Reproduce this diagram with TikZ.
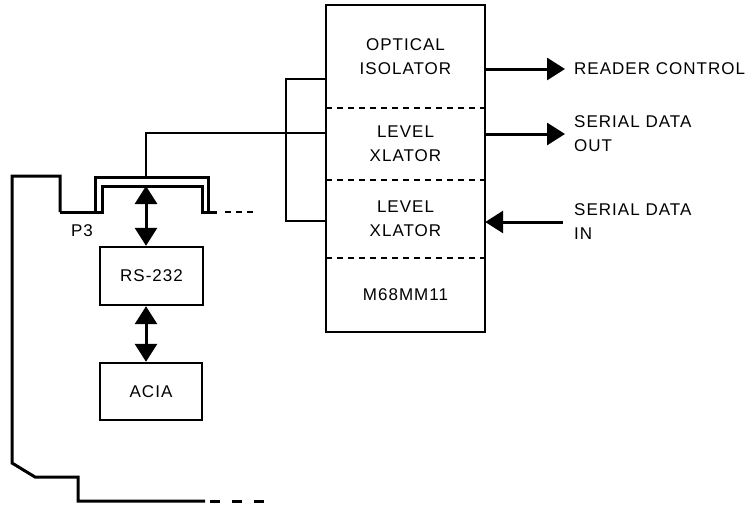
\documentclass[tikz,border=0pt]{standalone}
\usepackage{fontspec}
\setmainfont{Liberation Sans}[LetterSpace=6.0]
\usetikzlibrary{arrows.meta,positioning,calc}

\begin{document}
\begin{tikzpicture}[
  x=1pt, y=-1pt,
  sec/.style={rectangle, inner sep=0pt, minimum width=159pt, align=center,
              font=\fontsize{17}{24}\selectfont},
  blk/.style={rectangle, draw, line width=2.4pt, inner sep=0pt, align=center,
              font=\fontsize{17}{24}\selectfont},
  lab/.style={anchor=west, inner sep=3pt, align=left, font=\fontsize{17}{24}\selectfont},
  wire/.style={line width=2.4pt},
  bus/.style={line width=3pt},
  dsh/.style={line width=2.2pt, dash pattern=on 6pt off 5pt},
  >={Triangle[length=18pt,width=22pt]},
  arr/.style={->, line width=3pt},
  dbl/.style={<->, line width=3pt}
]
\useasboundingbox (0,0) rectangle (753,504);

\node[sec, minimum height=103pt] (opt) at (405.5,56.5) {OPTICAL\\ISOLATOR};
\node[sec, minimum height=72pt] (lvla) at (405.5,144) {LEVEL\\XLATOR};
\node[sec, minimum height=78pt] (lvlb) at (405.5,219) {LEVEL\\XLATOR};
\node[sec, minimum height=74pt] (mm) at (405.5,295) {M68MM11};
\draw[wire] (opt.north west) rectangle (mm.south east);
\draw[dsh] (lvla.north west) -- (lvla.north east);
\draw[dsh] (lvlb.north west) -- (lvlb.north east);
\draw[dsh] (mm.north west) -- (mm.north east);

\node[lab] (rctl) at (571,69) {READER CONTROL};
\node[lab] (sdout) at (571,134) {SERIAL DATA\\OUT};
\node[lab] (sdin) at (571,222) {SERIAL DATA\\IN};
\draw[arr, shorten >=6pt] (opt.east |- rctl.west) -- (rctl.west);
\draw[arr, shorten >=6pt] (lvla.east |- sdout.west) -- (sdout.west);
\draw[arr, shorten <=8pt] (sdin.west) -- (lvlb.east |- sdin.west);

\coordinate (brt) at (286,79);
\coordinate (brb) at (286,221);
\draw[wire] (opt.west |- brt) -- (brt) -- (brb) -- (lvlb.west |- brb);

\coordinate (tap) at (146,133);
\coordinate (busout) at (95,177);
\coordinate (busin) at (102,186);
\draw[wire] (lvla.west |- tap) -- (tap) -- (tap |- busout);
\draw[bus] (60,212) -- (102,212) -- (busin) -- (202,186) -- (202,212) -- (217,212);
\draw[bus] (95,212) -- (busout) -- (208,177) -- (208,212);
\draw[dsh] (225,212) -- (253,212);

\draw[bus] (60,212) -- (60,176) -- (12,176) -- (12,463) -- (35,477) -- (78,477)
  -- (78,501) -- (205,501);
\draw[dsh, line width=3pt, dash pattern=on 10pt off 12pt] (210,501) -- (267,501);
\node[font=\fontsize{17}{24}\selectfont] (p3) at (82,231) {P3};

\node[blk, minimum width=103pt, minimum height=58pt] (rs) at (151.5,276) {RS-232};
\node[blk, minimum width=102pt, minimum height=57pt] (acia) at (151,391.5) {ACIA};
\draw[dbl] (tap |- busin) -- (rs.north -| tap);
\draw[dbl] (rs.south -| tap) -- (acia.north -| tap);
\end{tikzpicture}
\end{document}
